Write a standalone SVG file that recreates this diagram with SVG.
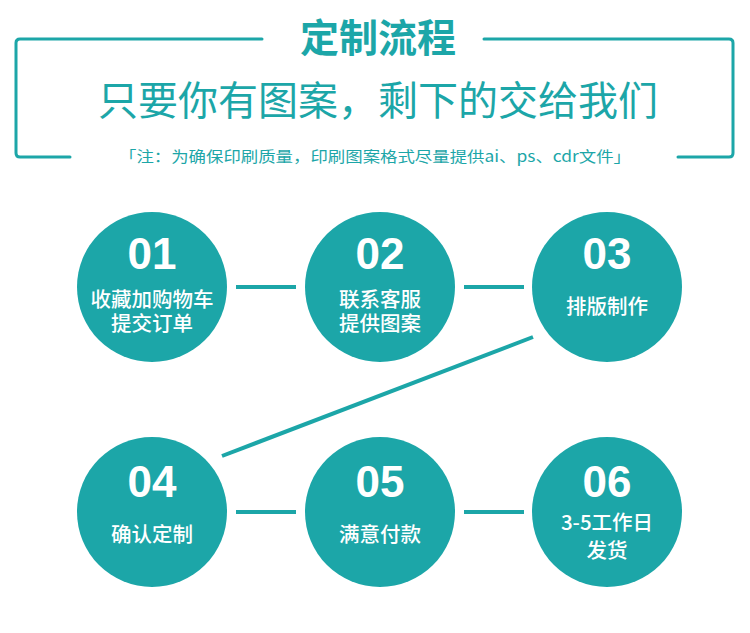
<svg xmlns="http://www.w3.org/2000/svg" width="750" height="633" viewBox="0 0 750 633">
<style>
.frame{fill:none;stroke:#1ca6a8;stroke-width:3;stroke-linejoin:round;stroke-linecap:round}
.conn{stroke:#1ca6a8;stroke-width:4;fill:none}
.node circle{fill:#1ca6a8}
.num{font-family:"Liberation Sans",Arial,sans-serif;font-weight:bold;font-size:44px;fill:#fff;text-anchor:middle}
.lbl{font-family:"Noto Sans CJK SC","Liberation Sans",sans-serif;font-size:20.5px;font-weight:500;fill:#fff;text-anchor:middle}
.head{font-family:"Noto Sans CJK SC","Liberation Sans",sans-serif;fill:#1ca6a8;text-anchor:middle}
</style>
<rect width="750" height="633" fill="#fff"/>
<g id="header">
<path class="frame" d="M262,39 H20 Q16,39 16,43 V153 Q16,157 20,157 H70"/>
<path class="frame" d="M484,39 H729 Q733,39 733,43 V153 Q733,157 729,157 H678"/>
<text class="head" x="378" y="52" font-size="39" font-weight="bold">定制流程</text>
<text class="head" x="378" y="115" font-size="40">只要你有图案，剩下的交给我们</text>
<text class="head" x="375" y="162" font-size="15" textLength="512" lengthAdjust="spacingAndGlyphs">「注：为确保印刷质量，印刷图案格式尽量提供ai、ps、cdr文件」</text>
</g>
<g id="connectors">
<line class="conn" x1="236" y1="287" x2="296" y2="287"/>
<line class="conn" x1="464" y1="287" x2="524" y2="287"/>
<line class="conn" x1="533" y1="337" x2="222" y2="456"/>
<line class="conn" x1="236" y1="512" x2="296" y2="512"/>
<line class="conn" x1="464" y1="512" x2="524" y2="512"/>
</g>
<g id="n01" class="node"><circle cx="152" cy="287" r="75"/><text class="num" x="152" y="269">01</text><text class="lbl" x="152" y="307"><tspan x="152">收藏加购物车</tspan><tspan x="152" dy="24">提交订单</tspan></text></g>
<g id="n02" class="node"><circle cx="380" cy="287" r="75"/><text class="num" x="380" y="269">02</text><text class="lbl" x="380" y="307"><tspan x="380">联系客服</tspan><tspan x="380" dy="24">提供图案</tspan></text></g>
<g id="n03" class="node"><circle cx="607" cy="287" r="75"/><text class="num" x="607" y="269">03</text><text class="lbl" x="607" y="314">排版制作</text></g>
<g id="n04" class="node"><circle cx="152" cy="512" r="75"/><text class="num" x="152" y="497">04</text><text class="lbl" x="152" y="542">确认定制</text></g>
<g id="n05" class="node"><circle cx="380" cy="512" r="75"/><text class="num" x="380" y="497">05</text><text class="lbl" x="380" y="542">满意付款</text></g>
<g id="n06" class="node"><circle cx="607" cy="512" r="75"/><text class="num" x="607" y="497">06</text><text class="lbl" x="607" y="530"><tspan x="607">3-5工作日</tspan><tspan x="607" dy="28">发货</tspan></text></g>
</svg>
